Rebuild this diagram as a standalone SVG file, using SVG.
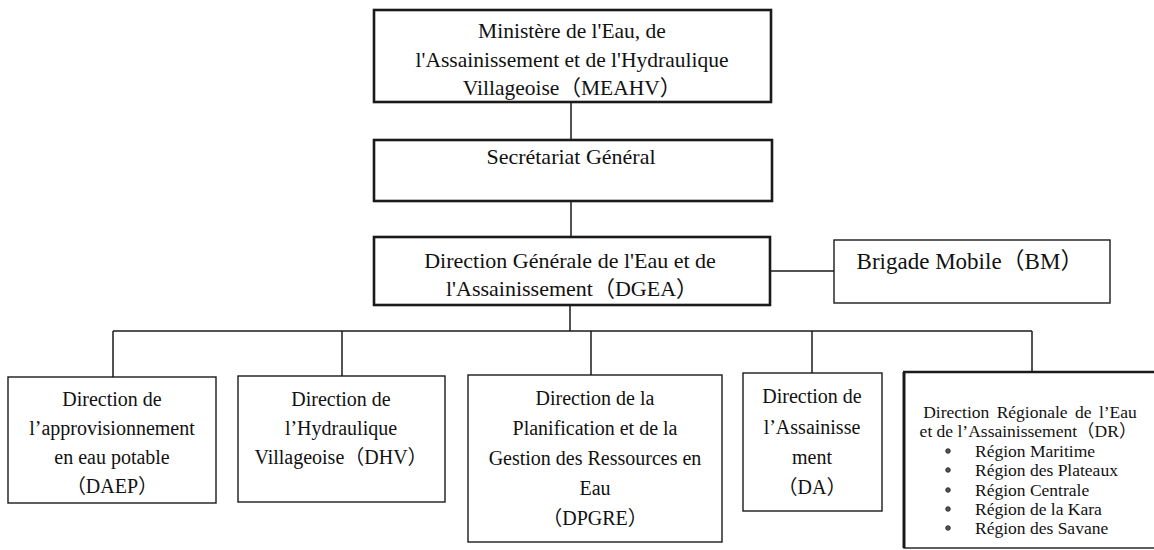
<svg xmlns="http://www.w3.org/2000/svg" width="1154" height="550" viewBox="0 0 1154 550">
<style>
  .bg { fill: #ffffff; }
  .thick { fill: #ffffff; stroke: #1a1a1a; stroke-width: 2.6; }
  .thin { fill: #ffffff; stroke: #1a1a1a; stroke-width: 1.4; }
  .conn { fill: none; stroke: #1a1a1a; stroke-width: 1.5; }
  .tx { fill: #111111; text-anchor: middle; }
  .t21 { font-size: 21.5px; }
  .t22 { font-size: 22px; }
  .t23 { font-size: 23px; }
  .t20 { font-size: 20px; }
  .t17 { font-size: 17.5px; }
  .left { text-anchor: start; }
  .bullet { fill: #555555; stroke: #1a1a1a; stroke-width: 0.8; }
</style>
<rect class="bg" x="0" y="0" width="1154" height="550"/>

<g id="connectors">
  <line class="conn" x1="571" y1="102" x2="571" y2="140"/>
  <line class="conn" x1="571" y1="201" x2="571" y2="237"/>
  <line class="conn" x1="770" y1="271" x2="834" y2="271"/>
  <line class="conn" x1="570" y1="305" x2="570" y2="331"/>
  <line class="conn" x1="113" y1="331" x2="1032" y2="331"/>
  <line class="conn" x1="113" y1="331" x2="113" y2="377"/>
  <line class="conn" x1="342" y1="331" x2="342" y2="376"/>
  <line class="conn" x1="591" y1="331" x2="591" y2="375"/>
  <line class="conn" x1="812" y1="331" x2="812" y2="373"/>
  <line class="conn" x1="1032" y1="331" x2="1032" y2="372"/>
</g>

<g font-family="'Liberation Serif', 'Times New Roman', 'Noto Sans CJK JP', serif">
<g id="meahv">
  <rect class="thick" x="374" y="10" width="397" height="92"/>
  <text class="tx t21" x="572" y="38">Ministère de l'Eau, de</text>
  <text class="tx t21" x="572" y="67">l'Assainissement et de l'Hydraulique</text>
  <text class="tx t21" x="572" y="95">Villageoise（MEAHV）</text>
</g>

<g id="sg">
  <rect class="thick" x="374" y="140" width="398" height="61"/>
  <text class="tx t22" x="571" y="164">Secrétariat Général</text>
</g>

<g id="dgea">
  <rect class="thick" x="374" y="237" width="396" height="68"/>
  <text class="tx t22" x="570" y="268">Direction Générale de l'Eau et de</text>
  <text class="tx t22" x="572" y="296">l'Assainissement（DGEA）</text>
</g>

<g id="bm">
  <rect class="thin" x="834" y="240" width="276" height="63"/>
  <text class="tx t23" x="970" y="269">Brigade Mobile（BM）</text>
</g>

<g id="daep">
  <rect class="thin" x="8" y="377" width="208" height="126"/>
  <text class="tx t20" x="112" y="406">Direction de</text>
  <text class="tx t20" x="112" y="435">l’approvisionnement</text>
  <text class="tx t20" x="112" y="464">en eau potable</text>
  <text class="tx t20" x="112" y="493">（DAEP）</text>
</g>

<g id="dhv">
  <rect class="thin" x="238" y="376" width="207" height="126"/>
  <text class="tx t20" x="341" y="406">Direction de</text>
  <text class="tx t20" x="341" y="435">l’Hydraulique</text>
  <text class="tx t20" x="341" y="464">Villageoise（DHV）</text>
</g>

<g id="dpgre">
  <rect class="thin" x="468" y="375" width="254" height="167"/>
  <text class="tx t20" x="595" y="405">Direction de la</text>
  <text class="tx t20" x="595" y="435">Planification et de la</text>
  <text class="tx t20" x="595" y="465">Gestion des Ressources en</text>
  <text class="tx t20" x="595" y="495">Eau</text>
  <text class="tx t20" x="595" y="525">（DPGRE）</text>
</g>

<g id="da">
  <rect class="thin" x="743" y="373" width="139" height="138"/>
  <text class="tx t20" x="812" y="403">Direction de</text>
  <text class="tx t20" x="812" y="434">l’Assainisse</text>
  <text class="tx t20" x="812" y="464">ment</text>
  <text class="tx t20" x="812" y="494">（DA）</text>
</g>

<g id="dr">
  <rect class="thin" x="904" y="372" width="260" height="176"/>
  <line class="conn" x1="904" y1="372" x2="904" y2="548" style="stroke-width:3"/>
  <line class="conn" x1="903" y1="372" x2="1154" y2="372" style="stroke-width:2.4"/>
  <text class="tx t17" x="1030" y="418" style="word-spacing:3px">Direction Régionale de l’Eau</text>
  <text class="tx t17" x="1028" y="437">et de l’Assainissement（DR）</text>
  <circle class="bullet" cx="948" cy="451" r="2.3"/>
  <circle class="bullet" cx="948" cy="470" r="2.3"/>
  <circle class="bullet" cx="948" cy="490" r="2.3"/>
  <circle class="bullet" cx="948" cy="509" r="2.3"/>
  <circle class="bullet" cx="948" cy="528" r="2.3"/>
  <text class="tx t17 left" x="975" y="457">Région Maritime</text>
  <text class="tx t17 left" x="975" y="476">Région des Plateaux</text>
  <text class="tx t17 left" x="975" y="496">Région Centrale</text>
  <text class="tx t17 left" x="975" y="515">Région de la Kara</text>
  <text class="tx t17 left" x="975" y="534">Région des Savane</text>
</g>
</g>
</svg>
